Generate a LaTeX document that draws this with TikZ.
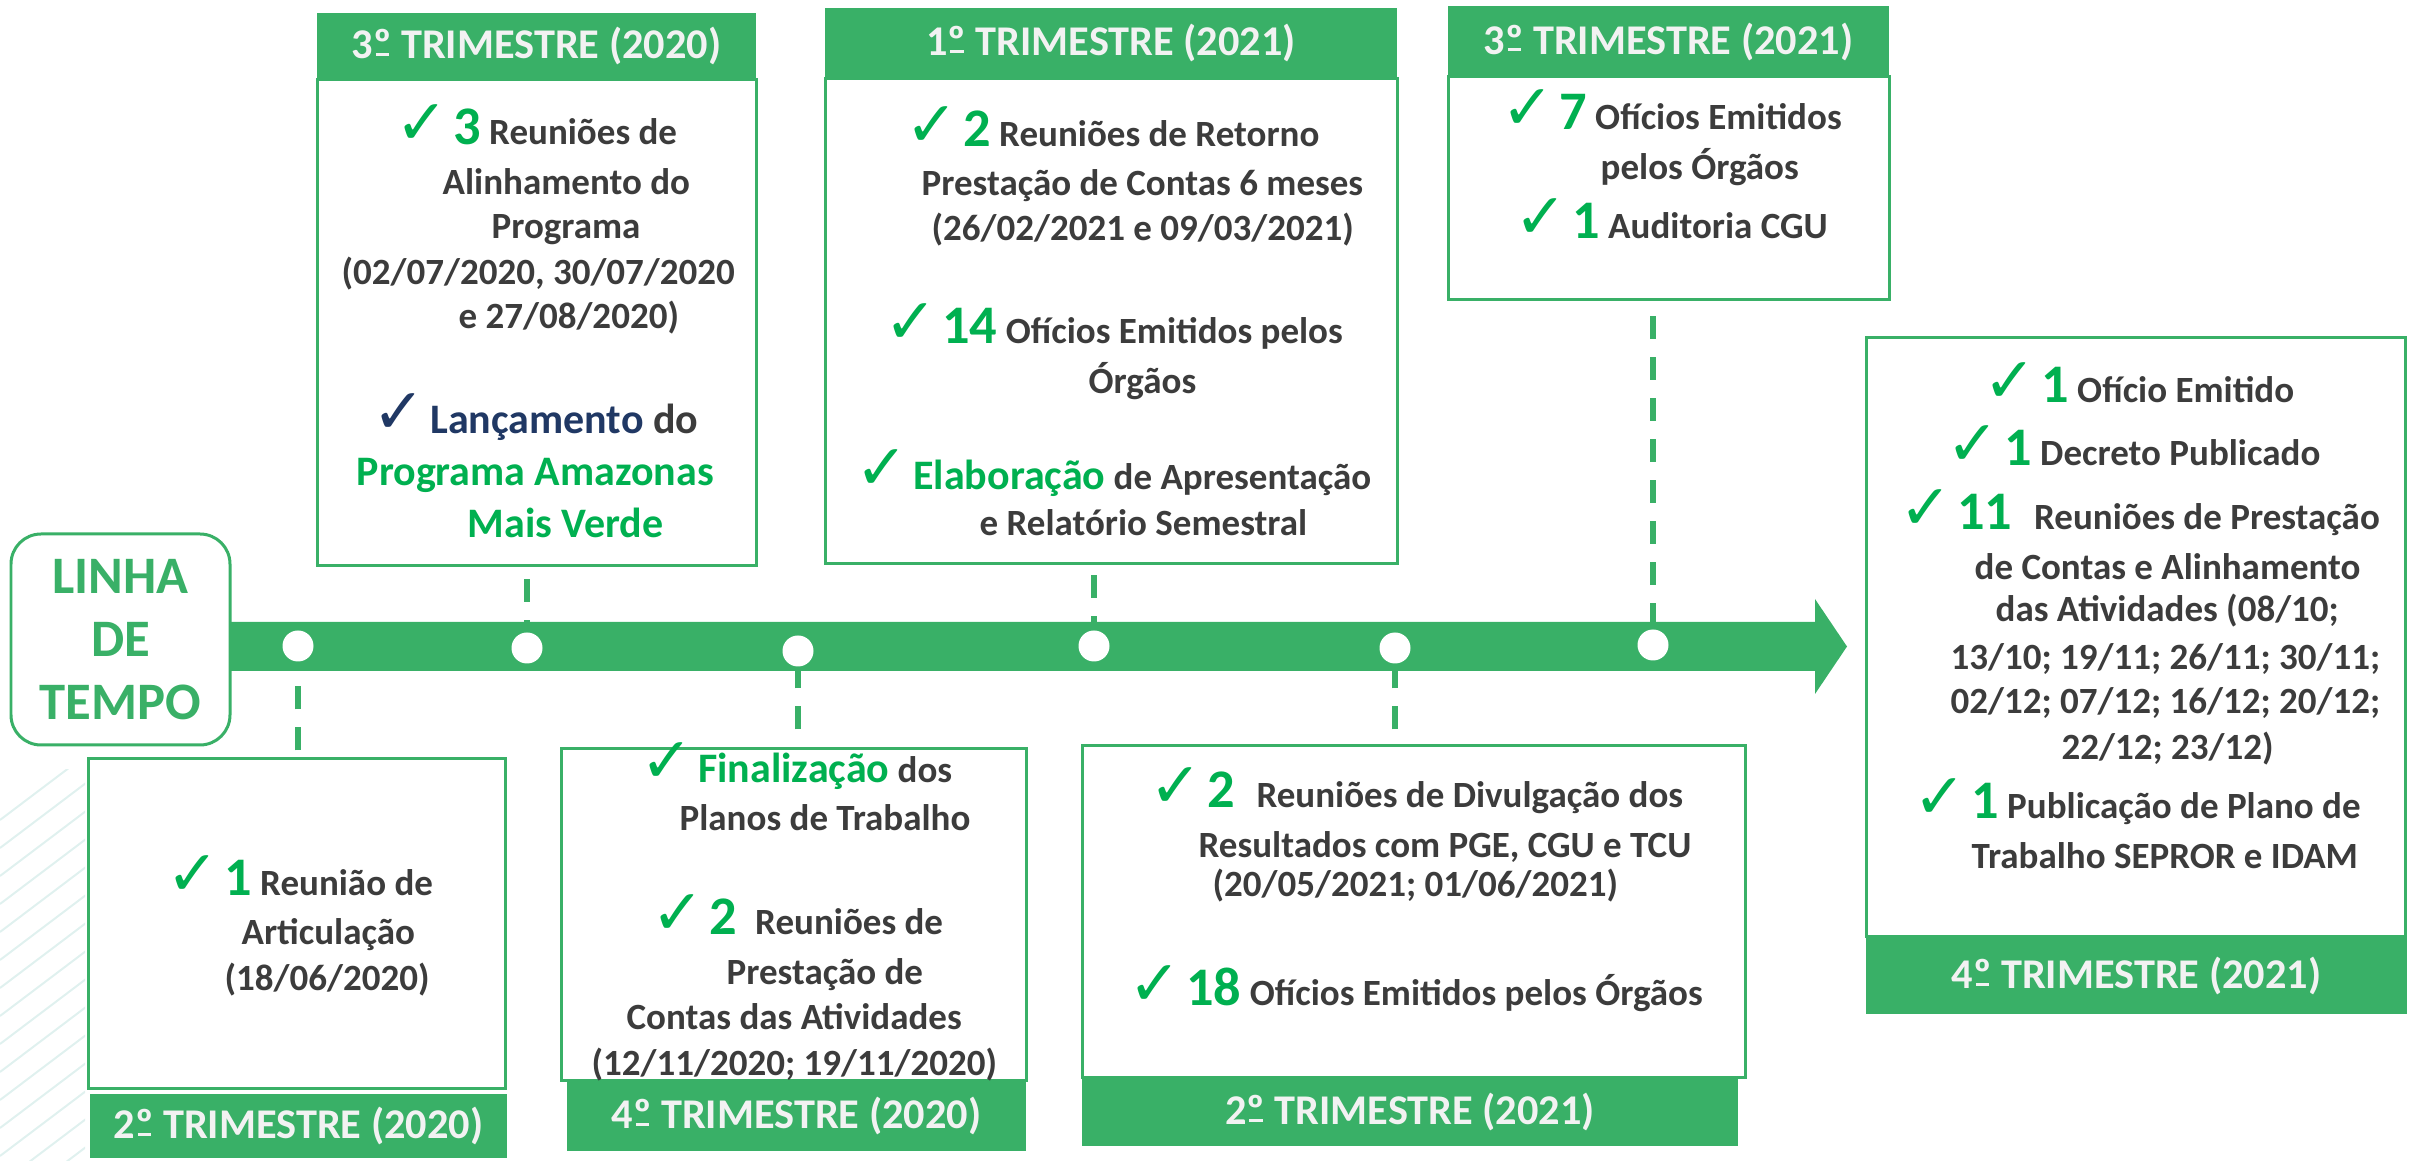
\documentclass[tikz,border=0pt]{standalone}
\usepackage{fontspec}
\setmainfont{Carlito}
\newfontfamily\symfont{DejaVu Sans}
\usepackage{xcolor}
\usepackage{tikz}

\definecolor{bargreen}{RGB}{57,176,103}
\definecolor{numgreen}{RGB}{0,176,80}
\definecolor{txtdark}{RGB}{60,60,60}
\definecolor{navyblue}{RGB}{32,56,100}
\definecolor{headtxt}{RGB}{242,242,242}
\definecolor{decor}{RGB}{224,241,239}

\newcommand{\unitpx}{0.3pt}
\newcommand{\bodytxt}{\fontsize{11.1pt}{13pt}\selectfont\bfseries}
\newcommand{\bigtxt}{\fontsize{12.6pt}{15pt}\selectfont\bfseries}
\newcommand{\chk}[2][numgreen]{\makebox[17.3pt][l]{\symfont\fontsize{19pt}{19pt}\selectfont\color{#1}✓}{\fontsize{16.3pt}{16.3pt}\selectfont\color{numgreen}#2}}
% ordinal sign with its bar underneath
\newcommand{\ordm}{\setbox0\hbox{º}\rlap{\hbox to\wd0{\hss\rule[0.07em]{0.72\wd0}{0.065em}\hss}}\box0}

\tikzset{
  bodybox/.style 2 args={draw=bargreen, line width=0.9pt, fill=white, minimum width={#1*\unitpx}, minimum height={#2*\unitpx}, inner sep=0pt},
  headbox/.style 2 args={fill=bargreen, text=headtxt, font=\fontsize{12.7pt}{15pt}\selectfont\bfseries, minimum width={#1*\unitpx}, minimum height={#2*\unitpx}, inner sep=0pt},
  txt/.style={anchor=base west, inner sep=0pt, text=txtdark, font=\bodytxt},
  tdot/.style={circle, fill=white, minimum size=9.3pt, inner sep=0pt},
  dashline/.style={draw=bargreen, line width=1.7pt, dash pattern=on 6.9pt off 5.4pt},
}

\begin{document}
\begin{tikzpicture}[x=0.3pt, y=-0.3pt]
  \useasboundingbox (0,0) rectangle (2420,1161);

  % faint lines in the lower left corner
  \begin{scope}
    \clip (0,770) rectangle (85,1161);
    \draw[decor, line width=0.6pt] (0,820) -- (90,752) (0,848) -- (90,780) (0,876) -- (90,808)
      (0,904) -- (90,836) (0,932) -- (90,864) (0,960) -- (90,892) (0,988) -- (90,920)
      (0,1016) -- (90,948) (0,1044) -- (90,976) (0,1072) -- (90,1004) (0,1100) -- (90,1032)
      (0,1128) -- (90,1060) (0,1156) -- (90,1088) (0,1184) -- (90,1116) (0,1212) -- (90,1144);
  \end{scope}

  % boxes above the line
  \node[bodybox={439}{486}] (b3t20) at (536.5,323) {};
  \node[headbox={439}{67}] (h3t20) at (536.5,46.5) {3\ordm{} TRIMESTRE (2020)};
  \node[bodybox={572}{485}] (b1t21) at (1111,321.5) {};
  \node[headbox={572}{71}] (h1t21) at (1111,43.5) {1\ordm{} TRIMESTRE (2021)};
  \node[bodybox={441}{223}] (b3t21) at (1668.5,188.5) {};
  \node[headbox={441}{71}] (h3t21) at (1668.5,41.5) {3\ordm{} TRIMESTRE (2021)};

  % boxes below the line
  \node[bodybox={417}{330}] (b2t20) at (296.5,924) {};
  \node[headbox={417}{64}] (h2t20) at (298.5,1126) {2\ordm{} TRIMESTRE (2020)};
  \node[bodybox={465}{332}] (b4t20) at (793.5,915) {};
  \node[headbox={459}{70}] (h4t20) at (796.5,1116) {4\ordm{} TRIMESTRE (2020)};
  \node[bodybox={663}{332}] (b2t21) at (1413.5,912) {};
  \node[headbox={656}{68}] (h2t21) at (1410,1112) {2\ordm{} TRIMESTRE (2021)};
  \node[bodybox={539}{599}] (b4t21) at (2135.5,637.5) {};
  \node[headbox={541}{76}] (h4t21) at (2136.5,976) {4\ordm{} TRIMESTRE (2021)};

  % the time line
  \fill[bargreen] (200,622) -- (1815,622) -- (1815,599) -- (1847,646.5) -- (1815,694)
    -- (1815,671) -- (200,671) -- cycle;
  \node[draw=bargreen, line width=0.9pt, fill=white, rounded corners=9pt, minimum width=219*\unitpx,
    minimum height=211*\unitpx, align=center, text=bargreen, font=\fontsize{15.8pt}{18.9pt}\selectfont\bfseries]
    (tempo) at (120.5,639.5) {LINHA\\DE\\TEMPO};

  \node[tdot] (d1) at (298,646) {};
  \node[tdot] (d2) at (527,648) {};
  \node[tdot] (d3) at (798,651) {};
  \node[tdot] (d4) at (1094,646) {};
  \node[tdot] (d5) at (1395,648) {};
  \node[tdot] (d6) at (1653,645) {};

  % dashed ties from the boxes to the dots
  \draw[dashline, shorten <=2.1pt] (d1 |- b2t20.north) -- (d1.south);
  \draw[dashline, shorten <=3.6pt] (d2 |- b3t20.south) -- (d2.north);
  \draw[dashline, shorten <=5.4pt] (d3 |- b4t20.north) -- (d3.south);
  \draw[dashline, shorten <=3pt] (d4 |- b1t21.south) -- (d4.north);
  \draw[dashline, shorten <=4.5pt] (d5 |- b2t21.north) -- (d5.south);
  \draw[dashline, shorten <=4.5pt] (d6 |- b3t21.south) -- (d6.north);

  % 3o trimestre 2020
  \node[txt] (l3t20a) at (395,145) {\chk{3} Reuniões de};
  \node[txt] (l3t20b) at (442,195) {Alinhamento do};
  \node[txt] (l3t20c) at (491,239) {Programa};
  \node[txt] (l3t20d) at (341,285) {(02/07/2020, 30/07/2020};
  \node[txt] (l3t20e) at (458,329) {e 27/08/2020)};
  \node[txt, font=\bigtxt] (l3t20f) at (372,434) {\chk[navyblue]{}{\color{navyblue}Lançamento} do};
  \node[txt, font=\bigtxt, text=numgreen] (l3t20g) at (356,486) {Programa Amazonas};
  \node[txt, font=\bigtxt, text=numgreen] (l3t20h) at (467,538) {Mais Verde};

  % 1o trimestre 2021
  \node[txt] (l1t21a) at (905,147) {\chk{2} Reuniões de Retorno};
  \node[txt] (l1t21b) at (921,196) {Prestação de Contas 6 meses};
  \node[txt] (l1t21c) at (931,241) {(26/02/2021 e 09/03/2021)};
  \node[txt] (l1t21d) at (884,344) {\chk{14} Ofícios Emitidos pelos};
  \node[txt] (l1t21e) at (1088,394) {Órgãos};
  \node[txt] (l1t21f) at (855,490) {\chk{}{\bigtxt\color{numgreen}Elaboração} de Apresentação};
  \node[txt] (l1t21g) at (979,536) {e Relatório Semestral};

  % 3o trimestre 2021
  \node[txt] (l3t21a) at (1501,130) {\chk{7} Ofícios Emitidos};
  \node[txt] (l3t21b) at (1600,180) {pelos Órgãos};
  \node[txt] (l3t21c) at (1514,239) {\chk{1} Auditoria CGU};

  % 2o trimestre 2020
  \node[txt] (l2t20a) at (166,896) {\chk{1} Reunião de};
  \node[txt] (l2t20b) at (241,945) {Articulação};
  \node[txt] (l2t20c) at (224,991) {(18/06/2020)};

  % 4o trimestre 2020
  \node[txt] (l4t20a) at (640,783) {\chk{}{\bigtxt\color{numgreen}Finalização} dos};
  \node[txt] (l4t20b) at (679,831) {Planos de Trabalho};
  \node[txt] (l4t20c) at (651,934) {\chk{2}\hspace{3pt} Reuniões de};
  \node[txt] (l4t20d) at (726,985) {Prestação de};
  \node[txt] (l4t20e) at (626,1029) {Contas das Atividades};
  \node[txt] (l4t20f) at (591,1075) {(12/11/2020; 19/11/2020)};

  % 2o trimestre 2021
  \node[txt] (l2t21a) at (1149,808) {\chk{2}\hspace{4pt} Reuniões de Divulgação dos};
  \node[txt] (l2t21b) at (1198,858) {Resultados com PGE, CGU e TCU};
  \node[txt] (l2t21c) at (1212,897) {(20/05/2021; 01/06/2021)};
  \node[txt] (l2t21d) at (1128,1006) {\chk{18} Ofícios Emitidos pelos Órgãos};

  % 4o trimestre 2021
  \node[txt] (l4t21a) at (1983,403) {\chk{1} Ofício Emitido};
  \node[txt] (l4t21b) at (1946,466) {\chk{1} Decreto Publicado};
  \node[txt] (l4t21c) at (1899,530) {\chk{11}\hspace{4pt} Reuniões de Prestação};
  \node[txt] (l4t21d) at (1974,580) {de Contas e Alinhamento};
  \node[txt] (l4t21e) at (1995,622) {das Atividades (08/10;};
  \node[txt] (l4t21f) at (1950,670) {13/10; 19/11; 26/11; 30/11;};
  \node[txt] (l4t21g) at (1950,714) {02/12; 07/12; 16/12; 20/12;};
  \node[txt] (l4t21h) at (2061,760) {22/12; 23/12)};
  \node[txt] (l4t21i) at (1913,819) {\chk{1} Publicação de Plano de};
  \node[txt] (l4t21j) at (1971,869) {Trabalho SEPROR e IDAM};
\end{tikzpicture}
\end{document}
